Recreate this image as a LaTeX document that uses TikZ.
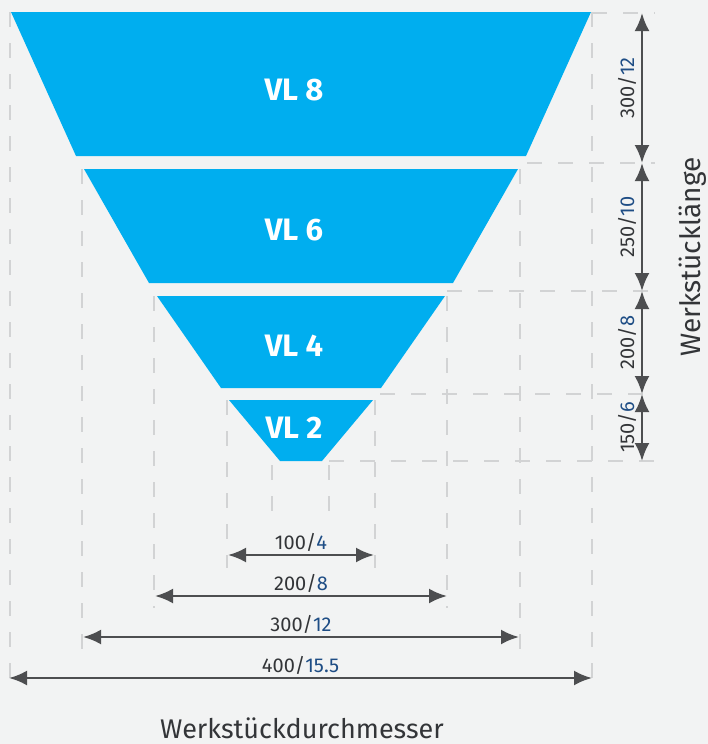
\documentclass[tikz,border=0pt]{standalone}
\usepackage{fontspec}
\setmainfont{Fira Sans}
\usepackage{xcolor}
\usetikzlibrary{arrows.meta}

\definecolor{vlblue}{HTML}{00AEEF}
\definecolor{arrowgray}{HTML}{4D4E50}
\definecolor{textgray}{HTML}{333538}
\definecolor{numblue}{HTML}{1E4D85}
\definecolor{guidegray}{HTML}{D2D3D4}
\definecolor{bggray}{HTML}{F2F3F3}
\newcommand{\dimval}[2]{#1/\textcolor{numblue}{#2}}

\begin{document}
\begin{tikzpicture}[x=1pt, y=-1pt,
  stage/.style={fill=vlblue, draw=none},
  stagelbl/.style={text=white, font=\bfseries\fontsize{31}{31}\selectfont},
  guide/.style={draw=guidegray, line width=1.4pt, dash pattern=on 15pt off 16pt},
  dim/.style={{Latex[length=18pt,width=15pt]}-{Latex[length=18pt,width=15pt]}, line width=2.6pt, draw=arrowgray},
  dimlbl/.style={text=textgray, font=\fontsize{20}{20}\selectfont, inner sep=1pt},
  axislbl/.style={text=textgray, font=\fontsize{27}{27}\selectfont, inner sep=1pt}
]
\fill[bggray] (0,0) rectangle (708,744);
\useasboundingbox (0,0) rectangle (708,744);

% guide lines
\foreach \gx/\gt/\gb in {10/12/690, 592/12/690, 82/169/650, 520/169/650,
                         154/296/608, 447/296/608, 227/400/568, 375/400/568,
                         272/465/527, 329/465/527}
  \draw[guide] (\gx,\gt) -- (\gx,\gb);
\foreach \gy/\gl in {13/592, 163/527, 291/447, 394/380, 461/329}
  \draw[guide] (\gl,\gy) -- (655,\gy);

% funnel stages
\fill[stage] (11,12) -- (591,12) -- (526,156) -- (76,156) -- cycle;
\fill[stage] (84,169) -- (518,169) -- (453,283) -- (149,283) -- cycle;
\fill[stage] (157,296) -- (445,296) -- (381,388) -- (221,388) -- cycle;
\fill[stage] (229,400) -- (373,400) -- (322,461) -- (280,461) -- cycle;
\node[stagelbl] (vl8) at (294,90) {VL 8};
\node[stagelbl] (vl6) at (294,230) {VL 6};
\node[stagelbl] (vl4) at (294,346) {VL 4};
\node[stagelbl] (vl2) at (294,428) {VL 2};

% length (right)
\coordinate (h0) at (642,13);
\coordinate (h1) at (642,163);
\coordinate (h2) at (642,291);
\coordinate (h3) at (642,394);
\coordinate (h4) at (642,461);
\draw[dim] (h0) -- node[midway, xshift=-15pt, rotate=90, dimlbl] (l8) {\dimval{300}{12}} (h1);
\draw[dim] (h1) -- node[midway, xshift=-15pt, rotate=90, dimlbl] (l6) {\dimval{250}{10}} (h2);
\draw[dim] (h2) -- node[midway, xshift=-15pt, rotate=90, dimlbl] (l4) {\dimval{200}{8}} (h3);
\draw[dim] (h3) -- node[midway, xshift=-15pt, rotate=90, dimlbl] (l2) {\dimval{150}{6}} (h4);

% diameter (bottom)
\coordinate (w2l) at (228,555);  \coordinate (w2r) at (374,555);
\coordinate (w4l) at (155,596);  \coordinate (w4r) at (447,596);
\coordinate (w6l) at (83,637);   \coordinate (w6r) at (519,637);
\coordinate (w8l) at (9,678);    \coordinate (w8r) at (592,678);
\draw[dim] (w2l) -- node[midway, yshift=13pt, dimlbl] (d2) {\dimval{100}{4}} (w2r);
\draw[dim] (w4l) -- node[midway, yshift=13pt, dimlbl] (d4) {\dimval{200}{8}} (w4r);
\draw[dim] (w6l) -- node[midway, yshift=13pt, dimlbl] (d6) {\dimval{300}{12}} (w6r);
\draw[dim] (w8l) -- node[midway, yshift=13pt, dimlbl] (d8) {\dimval{400}{15.5}} (w8r);

\node[axislbl, font=\fontsize{28}{28}\selectfont, rotate=90] (len) at (693,257) {Werkstücklänge};
\node[axislbl] (dia) at (302,728) {Werkstückdurchmesser};
\end{tikzpicture}
\end{document}
